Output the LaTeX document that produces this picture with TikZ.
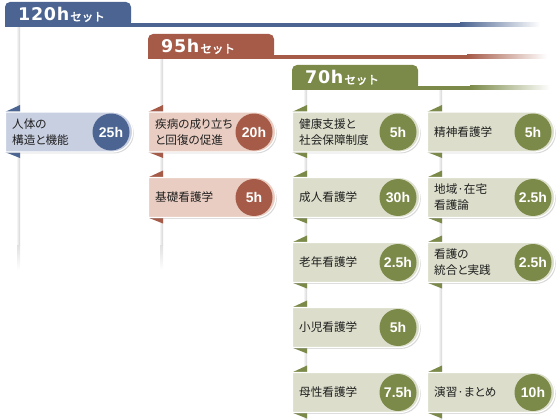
\documentclass[tikz,border=0pt]{standalone}
\usepackage{fontspec}
\usetikzlibrary{shapes.misc,shadows}
\newfontfamily\jp[RawFeature=+palt]{Noto Sans CJK JP}
\newfontfamily\jpt[FakeBold=2.5]{Noto Sans CJK JP}
\newfontfamily\hfont{Liberation Sans}
\newfontfamily\numfont[LetterSpace=4]{DejaVu Sans}
\definecolor{bdark}{HTML}{4B6491}
\definecolor{blight}{HTML}{C8CFE1}
\definecolor{rdark}{HTML}{A65B48}
\definecolor{rlight}{HTML}{EACDC2}
\definecolor{gdark}{HTML}{7B8A49}
\definecolor{glight}{HTML}{DCDECB}
\tikzset{
  subjbox/.style={rounded rectangle, rounded rectangle left arc=none,
    minimum width=127pt, minimum height=40pt, inner sep=0pt, draw=white,
    line width=1.2pt, anchor=west,
    drop shadow={shadow xshift=1.2pt, shadow yshift=-1.4pt, opacity=0.3}},
  hrs/.style={circle, minimum size=37pt, inner sep=0pt, text=white,
    font=\hfont\bfseries\fontsize{14}{14}\selectfont},
  subjtext/.style={anchor=west, align=left, text=black!88, inner sep=0pt,
    font=\jp\fontsize{11.6}{16}\selectfont},
  tablabel/.style={anchor=base west, text=white, inner sep=0pt},
  stemshade/.style={left color=white, right color=black!17},
}
\newcommand{\subj}[7]{%
  \fill[#6] (#2,#3-20) -- (#2+15,#3-27) -- (#2+15,#3-20) -- cycle;
  \fill[#6] (#2,#3+20) -- (#2+15,#3+20) -- (#2+15,#3+26) -- cycle;
  \node[subjbox, fill=#7] (#1) at (#2,#3) {};
  \node[hrs, fill=#6] (#1h) at (#2+106,#3) {#5};
  \node[subjtext] (#1t) at (#2+7,#3) {#4};
}
\newcommand{\settab}[6]{%
  \fill[#5, rounded corners=5] (#2,#3-25) rectangle (#2+126,#3);
  \fill[#5] (#2,#3-10) rectangle (#2+126,#3);
  \fill[#5] (#2+126,#3-4) rectangle (#6,#3);
  \shade[left color=#5, right color=white] (#6,#3-4) rectangle (#6+80,#3);
  \node[tablabel] (#1) at (#2+13,#3-6)
    {{\numfont\bfseries\fontsize{17.5}{18}\selectfont #4}\hspace{1pt}{\jpt\fontsize{11.5}{12}\selectfont セット}};
}
\begin{document}
\begin{tikzpicture}[x=1pt,y=-1pt]
\useasboundingbox (0,0) rectangle (560,420);
% stems
\shade[stemshade] (16,27) rectangle (20,245);
\shade[top color=black!12, bottom color=white] (17,245) rectangle (20,270);
\shade[stemshade] (159,59) rectangle (163,245);
\shade[top color=black!12, bottom color=white] (160,245) rectangle (163,270);
\shade[stemshade] (303,90) rectangle (307,420);
\shade[stemshade] (438,90) rectangle (442,420);
% tabs
\settab{t120}{5}{27}{120h}{bdark}{460}
\settab{t95}{148}{59}{95h}{rdark}{467}
\settab{t70}{292}{90}{70h}{gdark}{470}
% subjects
\subj{s1}{5}{132}{人体の\\構造と機能}{25h}{bdark}{blight}
\subj{s2}{148}{132}{疾病の成り立ち\\と回復の促進}{20h}{rdark}{rlight}
\subj{s3}{148}{197.5}{基礎看護学}{5h}{rdark}{rlight}
\subj{g1}{292}{132}{健康支援と\\社会保障制度}{5h}{gdark}{glight}
\subj{g2}{292}{197.5}{成人看護学}{30h}{gdark}{glight}
\subj{g3}{292}{262.5}{老年看護学}{2.5h}{gdark}{glight}
\subj{g4}{292}{327.5}{小児看護学}{5h}{gdark}{glight}
\subj{g5}{292}{392.5}{母性看護学}{7.5h}{gdark}{glight}
\subj{k1}{427}{132}{精神看護学}{5h}{gdark}{glight}
\subj{k2}{427}{197.5}{地域·在宅\\看護論}{2.5h}{gdark}{glight}
\subj{k3}{427}{262.5}{看護の\\統合と実践}{2.5h}{gdark}{glight}
\subj{k4}{427}{392.5}{演習·まとめ}{10h}{gdark}{glight}
\end{tikzpicture}
\end{document}
